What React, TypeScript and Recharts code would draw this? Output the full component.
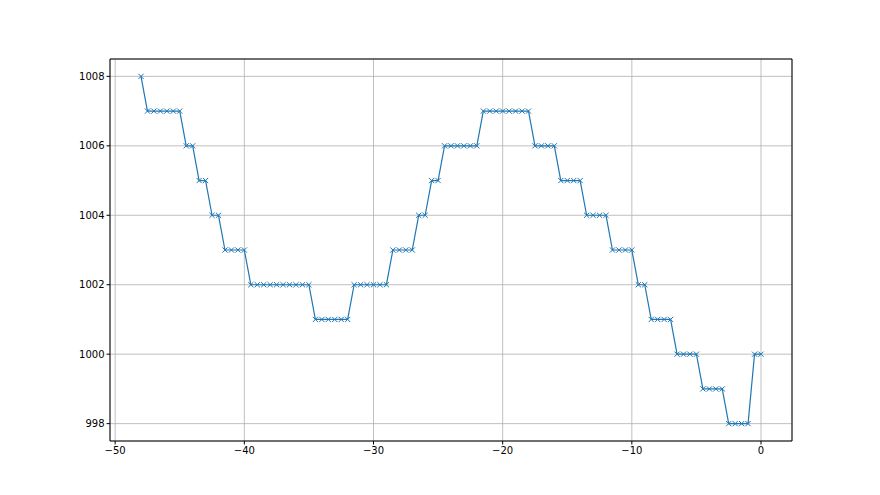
import React from "react";
import { LineChart, Line, XAxis, YAxis, CartesianGrid, ReferenceLine } from "recharts";

const hoursAgo: number[] = [];
for (let i = 0; i <= 96; i++) hoursAgo.push(-48 + i * 0.5);

const pressure: number[] = [
  1008,
  1007, 1007, 1007, 1007, 1007, 1007,
  1006, 1006,
  1005, 1005,
  1004, 1004,
  1003, 1003, 1003, 1003,
  1002, 1002, 1002, 1002, 1002, 1002, 1002, 1002, 1002, 1002,
  1001, 1001, 1001, 1001, 1001, 1001,
  1002, 1002, 1002, 1002, 1002, 1002,
  1003, 1003, 1003, 1003,
  1004, 1004,
  1005, 1005,
  1006, 1006, 1006, 1006, 1006, 1006,
  1007, 1007, 1007, 1007, 1007, 1007, 1007, 1007,
  1006, 1006, 1006, 1006,
  1005, 1005, 1005, 1005,
  1004, 1004, 1004, 1004,
  1003, 1003, 1003, 1003,
  1002, 1002,
  1001, 1001, 1001, 1001,
  1000, 1000, 1000, 1000,
  999, 999, 999, 999,
  998, 998, 998, 998,
  1000, 1000,
];

const xTicks = [-50, -40, -30, -20, -10, 0];
const yTicks = [998, 1000, 1002, 1004, 1006, 1008];

const data = hoursAgo.map((x, i) => ({ x, y: pressure[i] }));

const BLUE = "#1f77b4";

const XMarker = (props: any) => {
  const { cx, cy, index } = props;
  if (cx == null || cy == null) return <g key={`m${index}`} />;
  const s = 2.6;
  return (
    <path
      key={`m${index}`}
      d={`M${cx - s},${cy - s}L${cx + s},${cy + s}M${cx - s},${cy + s}L${cx + s},${cy - s}`}
      stroke={BLUE}
      strokeWidth={1}
      fill="none"
    />
  );
};

const fmt = (v: number) => String(v).replace("-", "\u2212");

export default function App() {
  return (
    <div style={{ position: "absolute", left: 0, top: 0, width: 880, height: 495, background: "#fff" }}>
      <LineChart
        width={880}
        height={495}
        data={data}
        margin={{ top: 59, right: 88, bottom: 24, left: 50 }}
      >
        <CartesianGrid stroke="#b0b0b0" strokeWidth={0.8} />
        <XAxis
          dataKey="x"
          type="number"
          domain={[-50.4, 2.4]}
          ticks={xTicks}
          allowDataOverflow
          height={30}
          stroke="#000"
          tickSize={3.5}
          tickFormatter={fmt}
          tick={{ fill: "#000", fontSize: 10, fontFamily: "DejaVu Sans" }}
        />
        <YAxis
          type="number"
          domain={[997.5, 1008.5]}
          ticks={yTicks}
          allowDataOverflow
          width={60}
          stroke="#000"
          tickSize={3.5}
          tick={{ fill: "#000", fontSize: 10, fontFamily: "DejaVu Sans" }}
        />
        <ReferenceLine y={1008.5} stroke="#000" strokeWidth={1} />
        <ReferenceLine x={2.4} stroke="#000" strokeWidth={1} />
        <Line
          type="linear"
          dataKey="y"
          stroke={BLUE}
          strokeWidth={1.2}
          dot={XMarker}
          activeDot={false}
          isAnimationActive={false}
        />
      </LineChart>
    </div>
  );
}
